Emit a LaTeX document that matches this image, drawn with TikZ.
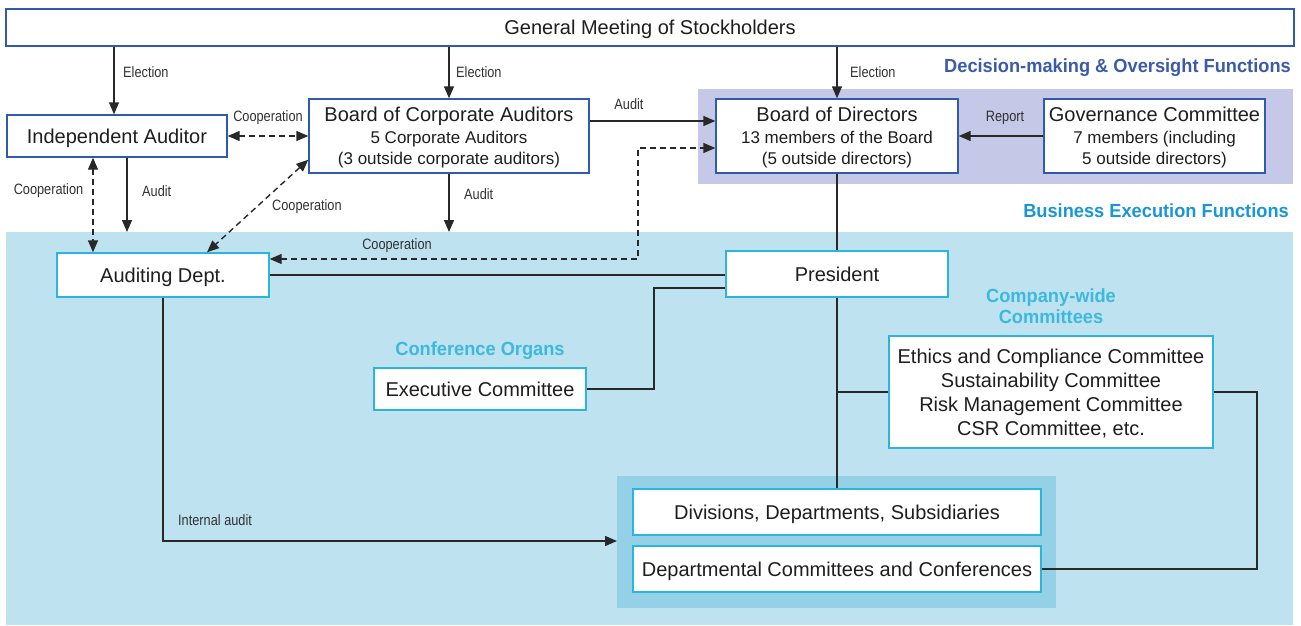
\documentclass[tikz,border=0pt]{standalone}
\usepackage{fontspec}
\setmainfont{Liberation Sans}
\newfontfamily\labfont[FakeStretch=0.85]{Liberation Sans}
\newfontfamily\hdrfont[FakeStretch=0.96]{Liberation Sans}
\usetikzlibrary{arrows.meta}
\definecolor{topbox}{RGB}{48,90,170}
\definecolor{lowbox}{RGB}{41,182,218}
\definecolor{bandpurple}{RGB}{197,200,230}
\definecolor{bandlight}{RGB}{190,226,240}
\definecolor{banddark}{RGB}{148,208,230}
\definecolor{hdrblue}{RGB}{58,90,170}
\definecolor{hdrcyan}{RGB}{25,150,215}
\definecolor{subcyan}{RGB}{60,185,220}
\definecolor{lnc}{RGB}{40,40,40}
\definecolor{txt}{RGB}{30,30,30}
\definecolor{labtxt}{RGB}{50,50,50}
\tikzset{
  boxbase/.style={draw, fill=white, line width=1.4pt, inner sep=0pt, align=center, text=txt,
    text depth=0pt, font=\fontsize{20}{21.5}\selectfont},
  topnode/.style={boxbase, draw=topbox},
  lownode/.style={boxbase, draw=lowbox},
  conn/.style={draw=lnc, line width=1.4pt},
  arr/.style={conn, -{Triangle[length=12pt,width=10pt]}},
  darr/.style={conn, dash pattern=on 6pt off 4pt, {Triangle[length=12pt,width=10pt]}-{Triangle[length=12pt,width=10pt]}},
  lab/.style={inner sep=0pt, text=labtxt, font=\labfont\fontsize{15}{17}\selectfont},
  hdr/.style={inner sep=0pt, align=center, font=\hdrfont\bfseries\fontsize{19}{21}\selectfont},
}
\newcommand{\sm}[1]{{\fontsize{17}{21.5}\selectfont #1}}
\begin{document}
\begin{tikzpicture}[x=1pt,y=-1pt]
\useasboundingbox (0,0) rectangle (1301,626);
% bands
\fill[bandpurple] (698,89) rectangle (1293,184);
\fill[bandlight] (6,232) rectangle (1293,625);
\fill[banddark] (617,476) rectangle (1056,608);
\coordinate (bandtop) at (0,232);
% boxes
\node[topnode, minimum width=1288pt, minimum height=37pt] (GM) at (650,27.5) {General Meeting of Stockholders};
\node[topnode, minimum width=220pt, minimum height=42pt] (IA) at (117,136) {Independent Auditor};
\node[topnode, minimum width=280pt, minimum height=74pt] (BCA) at (449,136) {Board of Corporate Auditors\\\sm{5 Corporate Auditors}\\\sm{(3 outside corporate auditors)}};
\node[topnode, minimum width=242pt, minimum height=74pt] (BoD) at (837,136) {Board of Directors\\\sm{13 members of the Board}\\\sm{(5 outside directors)}};
\node[topnode, minimum width=221pt, minimum height=74pt] (GC) at (1154.5,136) {Governance Committee\\\sm{7 members (including}\\\sm{5 outside directors)}};
\node[lownode, minimum width=212pt, minimum height=44pt] (AD) at (163,275) {Auditing Dept.};
\node[lownode, minimum width=222pt, minimum height=46pt] (Pres) at (837,274) {President};
\node[lownode, minimum width=212pt, minimum height=42pt] (EC) at (480,389) {Executive Committee};
\node[lownode, minimum width=324pt, minimum height=112pt, font=\fontsize{20}{24}\selectfont] (Eth) at (1051,392) {Ethics and Compliance Committee\\Sustainability Committee\\Risk Management Committee\\CSR Committee, etc.};
\node[lownode, minimum width=408pt, minimum height=46pt] (Div) at (837,512) {Divisions, Departments, Subsidiaries};
\node[lownode, minimum width=408pt, minimum height=46pt] (Dept) at (837,569) {Departmental Committees and Conferences};
% headers
\node[hdr, text=hdrblue, anchor=east] (h1) at (1291,68) {Decision-making \& Oversight Functions};
\node[hdr, text=hdrcyan, anchor=east] (h2) at (1289,211) {Business Execution Functions};
\node[hdr, text=subcyan] (h3) at (480,351) {Conference Organs};
\node[hdr, text=subcyan] (h4) at (1051,306) {Company-wide\\Committees};
% coordinates
\coordinate (cj) at (638,259);
\coordinate (jx) at (654,0);
\coordinate (rx) at (1257,0);
\coordinate (ia) at (617,541);
% connectors
\draw[arr] ([xshift=-3pt]IA.north |- GM.south) -- ([xshift=-3pt]IA.north);
\draw[arr] (BCA.north |- GM.south) -- (BCA.north);
\draw[arr] (BoD.north |- GM.south) -- (BoD.north);
\draw[darr] (IA.east) -- (BCA.west |- IA.east);
\draw[darr] ([xshift=-24pt]IA.south) -- ([xshift=-24pt]IA.south |- AD.north);
\draw[arr] ([xshift=10pt]IA.south) -- ([xshift=10pt]IA.south |- bandtop);
\draw[arr] (BCA.south) -- (BCA.south |- bandtop);
\draw[arr] ([yshift=15pt]BCA.east) -- ([yshift=15pt]BCA.east -| BoD.west);
\draw[darr] ([yshift=14pt]BCA.south west) -- ([xshift=44pt]AD.north);
\draw[darr] ([yshift=16pt]AD.east) -- (cj) |- ([yshift=-12pt]BoD.west);
\draw[arr] (GC.west) -- (BoD.east);
\draw[conn] (BoD.south) -- (BoD.south |- Pres.north);
\draw[conn] (AD.east) -- (AD.east -| Pres.west);
\draw[conn] (EC.east) -- (EC.east -| jx) |- ([yshift=-14pt]Pres.west);
\draw[conn] (Pres.south) -- (Pres.south |- Div.north);
\draw[conn] (Pres.south |- Eth.west) -- (Eth.west);
\draw[conn] (Eth.east) -- (Eth.east -| rx) |- (Dept.east);
\draw[arr] (AD.south) |- (ia);
% labels
\node[lab, anchor=west] (l1) at (123,72) {Election};
\node[lab, anchor=west] (l2) at (456,72) {Election};
\node[lab, anchor=west] (l3) at (850,72) {Election};
\node[lab] (l4) at (268,118) {Cooperation};
\node[lab] (l5) at (48.5,191) {Cooperation};
\node[lab, anchor=west] (l6) at (142,191) {Audit};
\node[lab, anchor=west] (l7) at (272,207) {Cooperation};
\node[lab, anchor=west] (l8) at (464,194) {Audit};
\node[lab] (l9) at (629,104) {Audit};
\node[lab] (l10) at (397,246) {Cooperation};
\node[lab] (l11) at (1005,118) {Report};
\node[lab, anchor=west] (l12) at (178,520) {Internal audit};
\end{tikzpicture}
\end{document}
